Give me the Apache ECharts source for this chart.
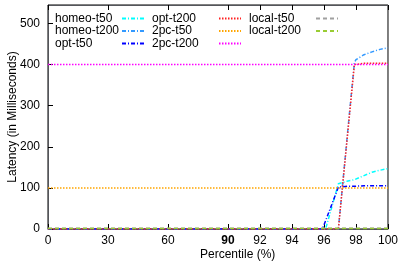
<!DOCTYPE html>
<html>
<head>
<meta charset="utf-8">
<script src="https://cdn.jsdelivr.net/npm/echarts@6/dist/echarts.min.js"></script>
<style>
  html, body { margin: 0; background: #fff; }
  #chart { width: 401px; height: 266px; }
</style>
</head>
<body>
<div id="chart"></div>
<script>
// percentile sample points (x) and latency readings (ms)
const percentiles = [0, 30, 60, 90, 92, 94, 95.9, 96.1, 96.9, 97, 97.5, 97.9, 98, 98.5, 99, 99.5, 100]
const homeoT50  = [0, 0, 0, 0, 0, 0, 0, 0, 110, 114, 117, 120, 121, 130, 138, 143, 147]
const homeoT200 = [0, 0, 0, 0, 0, 0, 0, 0, 0, 41, 245, 405, 412, 424, 431, 437, 441]
const optT50    = [0, 0, 0, 0, 0, 0, 0, 20, 102, 104, 104, 104, 105, 105, 105, 105, 105]
const optT200   = [0, 0, 0, 0, 0, 0, 0, 0, 0, 40, 240, 400, 402, 403, 403, 403, 403]
const pcT50     = [100, 100, 100, 100, 100, 100, 100, 100, 100, 100, 100, 100, 100, 100, 100, 100, 100]
const pcT200    = [400, 400, 400, 400, 400, 400, 400, 400, 400, 400, 400, 400, 400, 400, 400, 400, 400]
const localT50  = [2, 2, 2, 2, 2, 2, 2, 2, 2, 2, 2, 2, 2, 2, 2, 2, 2]
const localT200 = [1, 1, 1, 1, 1, 1, 1, 1, 1, 1, 1, 1, 1, 1, 1, 1, 1]

const xTicks = [0, 30, 60, 90, 92, 94, 96, 98, 100]

const FONT = "'Liberation Sans', Arial, sans-serif"
const DASH_DOT = [4, 2, 1, 2]
const DOTTED = [1.5, 1.5]
const DASHED = [4, 3]

// gnuplot-style broken scale: 0-90 squeezed, 90-100 stretched
function pos(p) {
  return p <= 90 ? p * 2 : 180 + (p - 90) * 16
}

const seriesDefs = [
  { name: 'homeo-t50', data: homeoT50, color: '#00ffff', dash: DASH_DOT },
  { name: 'homeo-t200', data: homeoT200, color: '#3399ff', dash: DASH_DOT },
  { name: 'opt-t50', data: optT50, color: '#0000ff', dash: DASH_DOT },
  { name: 'opt-t200', data: optT200, color: '#ff2020', dash: DOTTED },
  { name: '2pc-t50', data: pcT50, color: '#ffa500', dash: DOTTED },
  { name: '2pc-t200', data: pcT200, color: '#ff00ff', dash: DOTTED },
  { name: 'local-t50', data: localT50, color: '#a0a0a0', dash: DASHED },
  { name: 'local-t200', data: localT200, color: '#99cc33', dash: DASHED },
]

const tickPos = xTicks.map(pos)

function makeLegend(names, left) {
  return {
    data: names,
    left: left,
    top: 12.5,
    orient: 'vertical',
    align: 'right',
    padding: 0,
    itemWidth: 22,
    itemHeight: 8,
    itemGap: 0.5,
    selectedMode: false,
    itemStyle: { opacity: 0 },
    formatter: name => '{t|' + name + '}',
    textStyle: {
      fontFamily: FONT, fontSize: 12, color: '#000', lineHeight: 11,
      rich: { t: { width: 62, align: 'left', fontFamily: FONT, fontSize: 12, color: '#000', lineHeight: 11 } },
    },
  }
}

const chart = echarts.init(document.getElementById('chart'))
chart.setOption({
  animation: false,
  textStyle: { fontFamily: FONT },
  grid: { left: 48, right: 11, top: 5, bottom: 37, show: true, borderColor: '#000', borderWidth: 1 },
  legend: [
    makeLegend(['homeo-t50', 'homeo-t200', 'opt-t50'], 55),
    makeLegend(['opt-t200', '2pc-t50', '2pc-t200'], 152),
    makeLegend(['local-t50', 'local-t200'], 249),
  ],
  xAxis: [
    {
      type: 'value',
      min: 0,
      max: pos(100),
      splitLine: { show: false },
      axisTick: { show: true, inside: true, length: 5, lineStyle: { color: '#000', width: 1 }, customValues: tickPos },
      axisLabel: {
        customValues: tickPos,
        margin: 6,
        fontSize: 12,
        color: '#000',
        formatter: v => {
          const i = tickPos.findIndex(t => Math.abs(t - v) < 1e-6)
          const s = i >= 0 ? String(xTicks[i]) : ''
          return s === '90' ? '{b|90}' : s
        },
        rich: { b: { fontWeight: 'bold', fontSize: 12, color: '#000', fontFamily: FONT } },
      },
    },
    {
      type: 'value',
      position: 'top',
      min: 0,
      max: pos(100),
      splitLine: { show: false },
      axisTick: { show: true, inside: true, length: 5, lineStyle: { color: '#000', width: 1 }, customValues: tickPos },
      axisLabel: { show: false },
    },
  ],
  yAxis: {
    type: 'value',
    min: 0,
    max: 545,
    interval: 100,
    splitLine: { show: false },
    axisTick: { show: true, inside: true, length: 5, lineStyle: { color: '#000', width: 1 } },
    axisLabel: { margin: 8, fontSize: 12, color: '#000', showMaxLabel: false },
  },
  graphic: [
    {
      type: 'text',
      left: 200,
      top: 249,
      style: { text: 'Percentile (%)', font: '12px ' + FONT, fill: '#000' },
    },
    {
      type: 'text',
      x: 12.5,
      y: 117,
      rotation: Math.PI / 2,
      style: { text: 'Latency (in Milliseconds)', font: '12px ' + FONT, fill: '#000', align: 'center', verticalAlign: 'middle' },
    },
  ],
  series: seriesDefs.map(s => ({
    name: s.name,
    type: 'line',
    xAxisIndex: 0,
    symbol: 'none',
    data: percentiles.map((p, i) => [pos(p), s.data[i]]),
    lineStyle: { color: s.color, width: 1.5, type: s.dash },
    itemStyle: { color: s.color },
  })),
})
</script>
</body>
</html>
